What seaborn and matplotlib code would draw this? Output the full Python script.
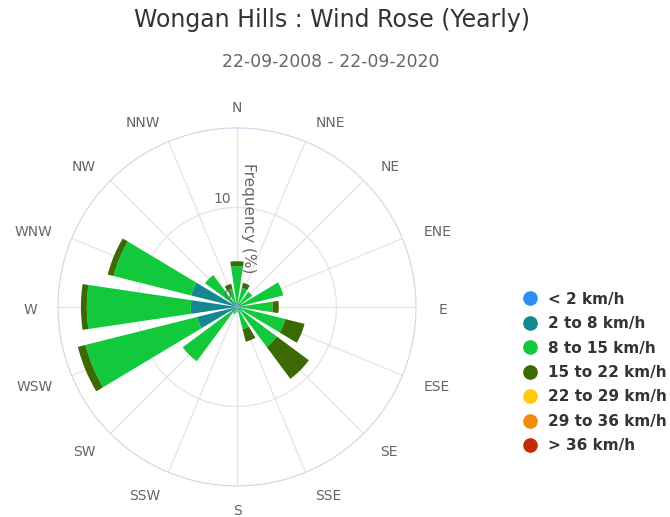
import numpy as np
import matplotlib.pyplot as plt
import seaborn as sns
from matplotlib.lines import Line2D

sns.set_style("white")
plt.rcParams['font.family'] = ['DejaVu Sans']

# wind direction sectors, clockwise from north
directions = ["N", "NNE", "NE", "ENE", "E", "ESE", "SE", "SSE",
              "S", "SSW", "SW", "WSW", "W", "WNW", "NW", "NNW"]

# frequency (%) per speed class
lt2 = [0.05, 0.05, 0.05, 0.05, 0.05, 0.05, 0.05, 0.05,
       0.05, 0.05, 0.05, 0.05, 0.05, 0.05, 0.05, 0.05]
s2_8 = [0.4, 0.4, 0.4, 0.5, 0.4, 0.4, 0.4, 0.3,
        0.3, 0.4, 0.7, 4.1, 4.6, 4.7, 0.9, 0.4]
s8_15 = [3.65, 1.55, 1.45, 4.25, 3.15, 4.55, 4.55, 1.95,
         0.2, 0.3, 6.05, 11.55, 10.45, 8.05, 3.05, 1.45]
s15_22 = [0.5, 0.5, 0.0, 0.0, 0.6, 2.0, 4.0, 1.3,
          0.0, 0.0, 0.0, 0.8, 0.6, 0.6, 0.0, 0.5]
s22_29 = [0.0] * 16
s29_36 = [0.0] * 16
gt36 = [0.0] * 16

speed_labels = ["< 2 km/h", "2 to 8 km/h", "8 to 15 km/h", "15 to 22 km/h",
                "22 to 29 km/h", "29 to 36 km/h", "> 36 km/h"]
colors = ["#2b8ff0", "#13898f", "#12c93c", "#3b6a04",
          "#ffc90e", "#f08a0b", "#c42b0b"]
series = [lt2, s2_8, s8_15, s15_22, s22_29, s29_36, gt36]

fig = plt.figure(figsize=(6.7, 5.17), dpi=100)
ax = fig.add_axes([0.0866, 0.06, 0.5343, 0.6925], projection="polar")
ax.set_theta_zero_location("N")
ax.set_theta_direction(-1)

theta = np.deg2rad(np.arange(len(directions)) * 22.5)
width = np.deg2rad(22.5) * 0.75
bottom = np.zeros(len(directions))
for vals, col, lab in zip(series, colors, speed_labels):
    vals = np.array(vals)
    ax.bar(theta, vals, width=width, bottom=bottom, color=col,
           linewidth=0, label=lab, zorder=3)
    bottom += vals

ax.set_ylim(0, 18)
ax.set_yticks([10])
ax.set_yticklabels([])
ax.set_axisbelow(True)
ax.yaxis.grid(True, color="#e6e6e6", lw=1)
ax.xaxis.grid(True, color="#e6e6e6", lw=1)
ax.set_xticks(theta)
ax.set_xticklabels([])
ax.spines["polar"].set_color("#ccd6eb")

# direction labels, aligned away from the circle like the original
px = 72 / 100
for t, lab in zip(theta, directions):
    s = np.sin(t)
    ha = "left" if s > 0.1 else ("right" if s < -0.1 else "center")
    dx = 2 if s > 0.1 else 0
    dy = -(1 + 1.6 * (1 - np.cos(t)))
    ax.annotate(lab, xy=(t, 20.1), xytext=(dx * px, dy * px),
                textcoords="offset points", ha=ha, va="center",
                color="#666666", fontsize=10, annotation_clip=False)

ax.annotate("10", xy=(0, 10), xytext=(-4, 6), textcoords="offset points",
            ha="right", va="center", color="#666666", fontsize=10)
ax.annotate("0", xy=(0.5, 0.5), xycoords="axes fraction", xytext=(-4, 8),
            textcoords="offset points", ha="right", va="center",
            color="#666666", fontsize=9, zorder=5)
ax.annotate("Frequency (%)", xy=(0, 8.95), xytext=(8, 0), textcoords="offset points",
            ha="center", va="center", rotation=-90, color="#666666", fontsize=11,
            zorder=4)

fig.text(0.4955, 0.961, "Wongan Hills : Wind Rose (Yearly)", ha="center",
         va="center", fontsize=17, color="#333333")
fig.text(0.494, 0.88, "22-09-2008 - 22-09-2020", ha="center", va="center",
         fontsize=12.4, color="#666666")

handles = [Line2D([], [], marker="o", linestyle="none", markersize=9.5,
                  markerfacecolor=c, markeredgecolor=c) for c in colors]
leg = fig.legend(handles, speed_labels, loc="upper left",
                 bbox_to_anchor=(0.7806, 0.436), frameon=False, borderpad=0,
                 borderaxespad=0, handlelength=0.9, handletextpad=0.73,
                 labelspacing=0.62, prop={"size": 11, "weight": "bold"})
for t in leg.get_texts():
    t.set_color("#333333")

fig.savefig("out.png", dpi=100)
